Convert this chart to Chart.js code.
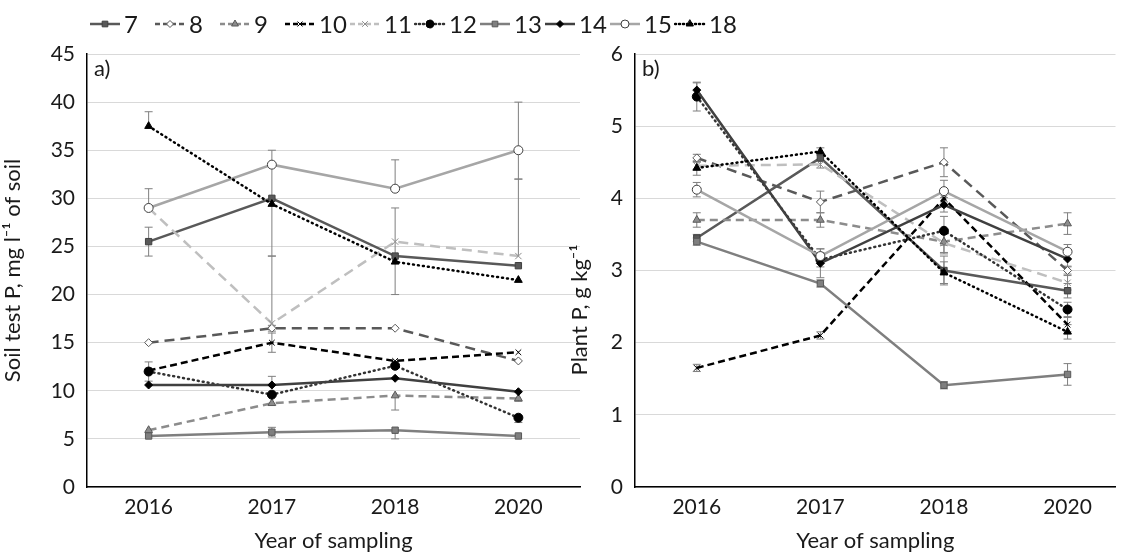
<!DOCTYPE html>
<html>
<head>
<meta charset="utf-8">
<script src="https://cdn.jsdelivr.net/npm/chart.js"></script>
<style>
  body { margin: 0; background: #fff; font-family: Lato, sans-serif; }
  #wrap { position: relative; width: 1121px; height: 558px; overflow: hidden; }
  #boxA { position: absolute; left: 0; top: 0; width: 600px; height: 558px; }
  #boxB { position: absolute; left: 560px; top: 0; width: 561px; height: 558px; }
  #legend { position: absolute; left: 89px; top: 10px; height: 28px; white-space: nowrap; }
  .item { display: inline-block; width: 65px; height: 28px; vertical-align: top; }
  .item canvas { vertical-align: middle; }
  .item span { font-size: 24px; color: #1a1a1a; vertical-align: middle; margin-left: 3px; line-height: 28px; }
</style>
</head>
<body>
<div id="wrap">
  <div id="boxA"><canvas id="chartA"></canvas></div>
  <div id="boxB"><canvas id="chartB"></canvas></div>
  <div id="legend"></div>
</div>
<script>
// sampling years and treatments
const years = ['2016', '2017', '2018', '2020'];
const treatments = ['7', '8', '9', '10', '11', '12', '13', '14', '15', '18'];

// a) soil test P, mg l-1 (one row per treatment)
const soilP = [
  [25.5, 30.0, 24.0, 23.0],
  [15.0, 16.5, 16.5, 13.1],
  [5.9, 8.7, 9.5, 9.2],
  [12.1, 15.0, 13.1, 14.0],
  [29.0, 17.0, 25.5, 24.0],
  [12.0, 9.6, 12.6, 7.2],
  [5.3, 5.7, 5.9, 5.3],
  [10.6, 10.6, 11.3, 9.9],
  [29.0, 33.5, 31.0, 35.0],
  [37.5, 29.4, 23.4, 21.5]
];
const soilErrHi = [
  [1.5, 0, 0, 0], [0, 0.3, 0, 0], [0, 0, 0, 0], [0, 1, 0, 0], [0, 7, 3.5, 8],
  [1, 0, 0, 0], [0, 0.5, 0, 0], [0, 0.9, 0, 0], [2, 1.5, 3, 5], [1.5, 0, 0, 0]
];
const soilErrLo = [
  [1.5, 0, 0, 0], [0, 0.3, 0, 0], [0, 0, 1.5, 0.3], [0, 1, 0, 0], [0, 0, 5.5, 0],
  [1, 0, 0, 0.5], [0, 0.5, 0.9, 0], [0, 0, 0, 0], [0, 9.5, 0, 3], [0, 0, 0, 0]
];

// b) plant P, g kg-1
const plantP = [
  [3.45, 4.56, 3.0, 2.72],
  [4.56, 3.95, 4.5, 3.0],
  [3.7, 3.7, 3.4, 3.65],
  [1.65, 2.1, 4.0, 2.25],
  [4.45, 4.47, 3.38, 2.83],
  [5.41, 3.15, 3.55, 2.46],
  [3.4, 2.82, 1.41, 1.56],
  [5.5, 3.1, 3.91, 3.16],
  [4.12, 3.2, 4.1, 3.26],
  [4.42, 4.65, 2.97, 2.15]
];
const plantErr = [
  [0.05, 0.05, 0.2, 0.1], [0.05, 0.15, 0.2, 0.05], [0.1, 0.1, 0.15, 0.15],
  [0.05, 0.05, 0.1, 0.1], [0.05, 0.05, 0.15, 0.1], [0.2, 0.1, 0.2, 0.1],
  [0.05, 0.05, 0.05, 0.15], [0.1, 0.2, 0.1, 0.1], [0.1, 0.1, 0.15, 0.1],
  [0.1, 0.05, 0.15, 0.1]
];

// look of each treatment
const styles = [
  { line: '#595959', dash: [], style: 'rect', fill: '#595959', edge: '#404040', r: 4.5 },
  { line: '#595959', dash: [10, 6], style: 'rectRot', fill: '#fff', edge: '#595959', r: 4 },
  { line: '#8c8c8c', dash: [8, 5], style: 'triangle', fill: '#8c8c8c', edge: '#595959', r: 4.5 },
  { line: '#000', dash: [7, 4], style: 'crossRot', fill: '#000', edge: '#000', r: 4 },
  { line: '#bfbfbf', dash: [10, 6], style: 'crossRot', fill: '#bfbfbf', edge: '#8c8c8c', r: 4.5 },
  { line: '#333', dash: [1, 4], style: 'circle', fill: '#000', edge: '#000', r: 4.5, round: true },
  { line: '#7f7f7f', dash: [], style: 'rect', fill: '#7f7f7f', edge: '#595959', r: 4.5 },
  { line: '#404040', dash: [], style: 'rectRot', fill: '#000', edge: '#000', r: 4 },
  { line: '#a6a6a6', dash: [], style: 'circle', fill: '#fff', edge: '#404040', r: 4.5 },
  { line: '#000', dash: [1, 4], style: 'triangle', fill: '#000', edge: '#000', r: 4.5, round: true }
];

const FONT = 'Lato';
Chart.defaults.font.family = FONT;
Chart.defaults.color = '#1a1a1a';

function makeSets(values) {
  return values.map((row, i) => {
    const s = styles[i];
    return {
      label: treatments[i],
      data: row.map((v, j) => ({ x: j, y: v })),
      borderColor: s.line,
      borderWidth: 2.5,
      borderDash: s.dash,
      borderCapStyle: s.round ? 'round' : 'butt',
      pointStyle: s.style,
      pointRadius: s.r,
      pointBackgroundColor: s.fill,
      pointBorderColor: s.edge,
      pointBorderWidth: 1,
      tension: 0,
      order: treatments.length - i
    };
  });
}

const errorBars = {
  id: 'errorBars',
  beforeDatasetsDraw(chart, args, opts) {
    const { ctx, scales: { x, y } } = chart;
    ctx.save();
    ctx.strokeStyle = '#7f7f7f';
    ctx.lineWidth = 1;
    chart.data.datasets.forEach((ds, i) => {
      ds.data.forEach((p, j) => {
        const hi = opts.hi[i][j], lo = opts.lo[i][j];
        if (!hi && !lo) return;
        const px = x.getPixelForValue(p.x);
        const top = y.getPixelForValue(p.y + hi);
        const bot = y.getPixelForValue(p.y - lo);
        ctx.beginPath();
        ctx.moveTo(px, top); ctx.lineTo(px, bot);
        if (hi) { ctx.moveTo(px - 4, top); ctx.lineTo(px + 4, top); }
        if (lo) { ctx.moveTo(px - 4, bot); ctx.lineTo(px + 4, bot); }
        ctx.stroke();
      });
    });
    ctx.restore();
  }
};

// panel letter, plus a y title that can sit off-centre
const panelText = {
  id: 'panelText',
  afterDraw(chart, args, opts) {
    const { ctx, chartArea } = chart;
    ctx.save();
    ctx.font = '22px ' + FONT;
    ctx.fillStyle = '#1a1a1a';
    ctx.textBaseline = 'middle';
    ctx.fillText(opts.tag, chartArea.left + 7, chartArea.top + 15);
    if (opts.yTitle) {
      ctx.translate(opts.titleX, opts.titleY);
      ctx.rotate(-Math.PI / 2);
      ctx.textAlign = 'center';
      ctx.fillText(opts.yTitle, 0, 0);
    }
    ctx.restore();
  }
};

function makeChart(id, values, errHi, errLo, cfg) {
  return new Chart(document.getElementById(id), {
    type: 'line',
    data: { datasets: makeSets(values) },
    plugins: [errorBars, panelText],
    options: {
      responsive: true,
      maintainAspectRatio: false,
      animation: false,
      layout: { padding: { top: 54, right: cfg.padRight, bottom: 0, left: 0 } },
      plugins: {
        legend: { display: false },
        tooltip: { enabled: false },
        errorBars: { hi: errHi, lo: errLo },
        panelText: { tag: cfg.tag, yTitle: cfg.ownTitle, titleX: cfg.titleX, titleY: cfg.titleY }
      },
      scales: {
        x: {
          type: 'linear',
          min: -0.5,
          max: cfg.xMax,
          afterBuildTicks: s => { s.ticks = years.map((_, i) => ({ value: i })); },
          afterFit: s => { s.height = 71; },
          ticks: { callback: v => years[v], font: { size: 21 }, padding: 8 },
          grid: { display: false, drawTicks: false },
          border: { display: true, color: '#000', width: 1.5 },
          title: { display: true, text: 'Year of sampling', font: { size: 22 }, padding: { top: 2 } }
        },
        y: {
          min: 0,
          max: cfg.yMax,
          afterBuildTicks: s => {
            const t = [];
            for (let v = 0; v <= cfg.yMax + 1e-9; v += cfg.yStep) t.push({ value: v });
            s.ticks = t;
          },
          afterFit: s => { s.width = cfg.axisW; },
          ticks: { font: { size: 21 }, padding: 12 },
          grid: { color: '#d9d9d9', lineWidth: 1, drawTicks: false },
          border: { display: true, color: '#000', width: 1.5 },
          title: { display: !!cfg.yTitle, text: cfg.yTitle, font: { size: 22 }, padding: 0 }
        }
      }
    }
  });
}

makeChart('chartA', soilP, soilErrHi, soilErrLo,
  { tag: 'a)', xMax: 3.5, yMax: 45, yStep: 5, axisW: 87, padRight: 20, yTitle: 'Soil test P, mg l⁻¹ of soil' });
makeChart('chartB', plantP, plantErr, plantErr,
  { tag: 'b)', xMax: 3.388, yMax: 6, yStep: 1, axisW: 75, padRight: 0, yTitle: '',
    ownTitle: 'Plant P, g kg⁻¹', titleX: 20, titleY: 310 });

// legend across the top
const legend = document.getElementById('legend');
treatments.forEach((name, i) => {
  const s = styles[i];
  const item = document.createElement('div');
  item.className = 'item';
  const c = document.createElement('canvas');
  c.width = 32; c.height = 28;
  const g = c.getContext('2d');
  g.strokeStyle = s.line;
  g.lineWidth = 2.5;
  g.setLineDash(s.dash.length ? [Math.min(s.dash[0], 5), s.dash[1] > 3 ? 3 : s.dash[1]] : []);
  g.lineCap = s.round ? 'round' : 'butt';
  g.beginPath(); g.moveTo(1, 14); g.lineTo(31, 14); g.stroke();
  g.setLineDash([]);
  g.fillStyle = s.fill;
  g.strokeStyle = s.edge;
  g.lineWidth = 1;
  Chart.helpers.drawPoint(g, { pointStyle: s.style, radius: s.r - 0.5, rotation: 0, borderWidth: 1 }, 16, 14);
  const t = document.createElement('span');
  t.textContent = name;
  item.appendChild(c);
  item.appendChild(t);
  legend.appendChild(item);
});
</script>
</body>
</html>
